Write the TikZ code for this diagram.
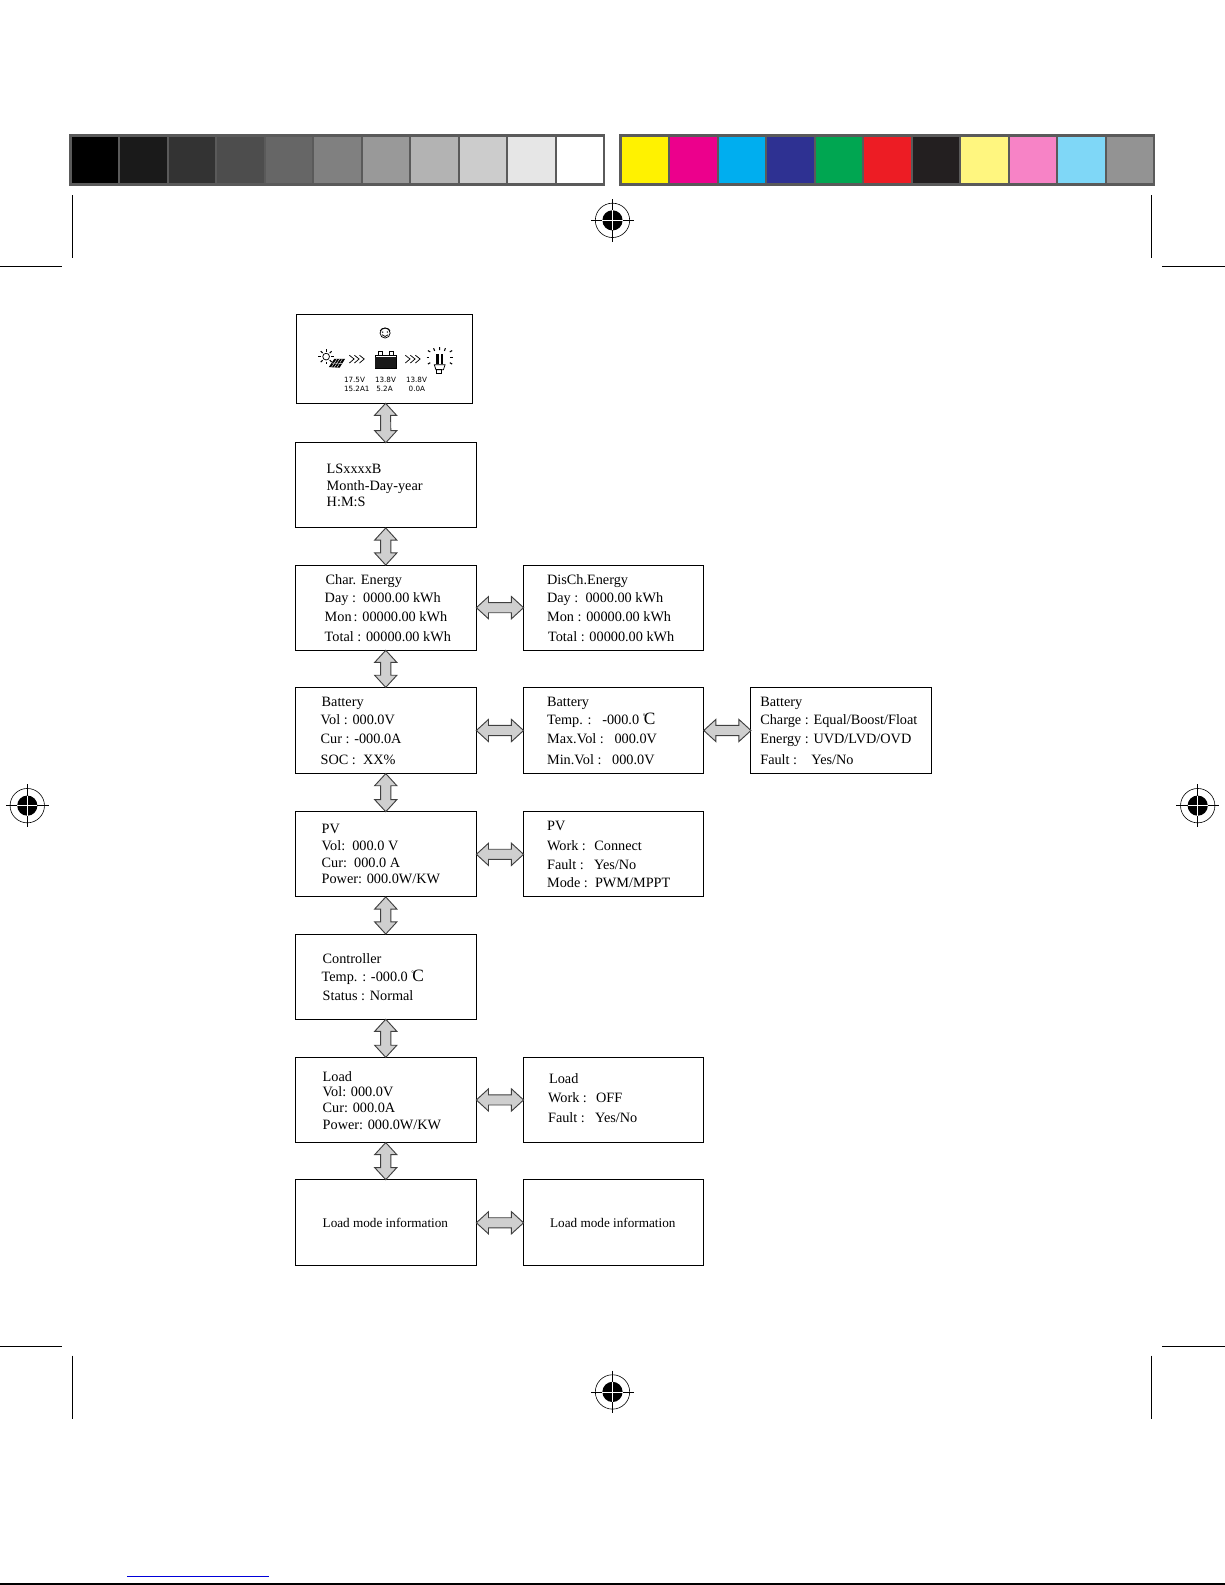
\documentclass[tikz,border=0pt]{standalone}
\usepackage{fontspec}
\setmainfont{Liberation Serif}
\newfontfamily\lcdfont{DejaVu Sans}
\usetikzlibrary{calc}
\definecolor{arrowgray}{HTML}{CFCFCF}
\definecolor{barback}{HTML}{5A5A5A}
\newcount\lblcount
\newcount\swcount
\tikzset{
  blockarrow/.style={draw=black!75,line width=0.7pt,fill=arrowgray,line join=miter},
  lbl/.style={anchor=base west,inner sep=0pt,font=\fontsize{10.7pt}{12pt}\selectfont},
  lblsmall/.style={anchor=base west,inner sep=0pt,font=\fontsize{9.9pt}{12pt}\selectfont},
  lcd/.style={anchor=base west,inner sep=0pt,font=\lcdfont\fontsize{5.4pt}{6pt}\selectfont},
  crop/.style={draw=black,line width=0.7pt},
  regline/.style={draw=black,line width=0.45pt},
}
% box by corners
\newcommand{\bx}[5]{\node[draw=black,line width=0.75pt,inner sep=0pt,outer sep=0pt,anchor=north west,minimum width=#4*0.758pt-#2*0.758pt+0.25pt,minimum height=#5*0.758pt-#3*0.758pt+0.25pt] (#1) at (#2,#3) {};}
\newcommand{\tl}[3]{\global\advance\lblcount by 1 \node[lbl] (txt\the\lblcount) at (#1,#2) {#3};}
\newcommand{\ts}[3]{\global\advance\lblcount by 1 \node[lblsmall] (txt\the\lblcount) at (#1,#2) {#3};}
\newcommand{\tz}[3]{\global\advance\lblcount by 1 \node[lcd] (txt\the\lblcount) at (#1,#2) {#3};}
\newcommand{\varr}[2]{\draw[blockarrow] (#1.south) -- ($(#1.south)+(11,12)$) -- ($(#1.south)+(5,12)$) -- ($(#2.north)+(5,-12)$) -- ($(#2.north)+(11,-12)$) -- (#2.north) -- ($(#2.north)+(-11,-12)$) -- ($(#2.north)+(-5,-12)$) -- ($(#1.south)+(-5,12)$) -- ($(#1.south)+(-11,12)$) -- cycle;}
\newcommand{\harr}[2]{\draw[blockarrow] (#1.east) -- ($(#1.east)+(12,-11)$) -- ($(#1.east)+(12,-5)$) -- ($(#2.west)+(-12,-5)$) -- ($(#2.west)+(-12,-11)$) -- (#2.west) -- ($(#2.west)+(-12,11)$) -- ($(#2.west)+(-12,5)$) -- ($(#1.east)+(12,5)$) -- ($(#1.east)+(12,11)$) -- cycle;}
\newcommand{\regmark}[2]{%
  \fill[black] (#1,#2) circle[radius=10];
  \draw[regline] (#1,#2) circle[radius=17];
  \draw[regline] (#1-21,#2) -- (#1+21,#2);
  \draw[regline] (#1,#2-21) -- (#1,#2+21);
  \draw[white,line width=0.5pt] (#1-10,#2) -- (#1+10,#2);
  \draw[white,line width=0.5pt] (#1,#2-10) -- (#1,#2+10);}
\newcommand{\degC}{{\fontsize{5pt}{5pt}\selectfont\raisebox{4.5pt}{°}}\kern-1.2pt{\fontsize{13pt}{13pt}\selectfont C}}
\begin{document}
\begin{tikzpicture}[x=0.75804pt,y=-0.75813pt]
\useasboundingbox (0,0) rectangle (1212,1568);
\fill[white] (0,0) rectangle (1212,1568);
% colour bars
\fill[barback] (68,133) rectangle (599,184);
\fill[barback] (612,133) rectangle (1143,184);
\swcount=0
\foreach \c in {000000,1A1A1A,333333,4D4D4D,666666,808080,999999,B3B3B3,CCCCCC,E6E6E6,FFFFFF}{
  \definecolor{sw}{HTML}{\c}
  \fill[sw] ({71+48*\the\swcount},135.5) rectangle ++(46,45.5);
  \global\advance\swcount by 1
}
\swcount=0
\foreach \c in {FFF200,EC008C,00AEEF,2E3192,00A651,ED1C24,231F20,FFF67F,F783C6,7FD7F7,939393}{
  \definecolor{sw}{HTML}{\c}
  \fill[sw] ({615+48*\the\swcount},135.5) rectangle ++(46,45.5);
  \global\advance\swcount by 1
}
% crop marks
\draw[crop] (72,193) -- (72,255);
\draw[crop] (1139,193) -- (1139,255);
\draw[crop] (0,264) -- (61,264);
\draw[crop] (1150,264) -- (1212,264);
\draw[crop] (0,1332) -- (61,1332);
\draw[crop] (1150,1332) -- (1212,1332);
\draw[crop] (72,1341) -- (72,1404);
\draw[crop] (1139,1341) -- (1139,1404);
\draw[draw=black,line width=0.8pt] (0,1567) -- (1212,1567);
\draw[draw=blue!85!black,line width=0.7pt] (126,1560) -- (266,1560);
\regmark{606}{218}
\regmark{27}{797}
\regmark{1185}{797}
\regmark{606}{1377}
% boxes
\bx{lcd}{293}{311}{467}{399}
\bx{info}{292}{438}{471}{522}
\bx{char}{292}{559}{471}{643}
\bx{disch}{518}{559}{696}{643}
\bx{bata}{292}{680}{471}{765}
\bx{batb}{518}{680}{696}{765}
\bx{batc}{743}{680}{921}{765}
\bx{pva}{292}{803}{471}{887}
\bx{pvb}{518}{803}{696}{887}
\bx{ctrl}{292}{924}{471}{1008}
\bx{loada}{292}{1046}{471}{1130}
\bx{loadb}{518}{1046}{696}{1130}
\bx{modea}{292}{1167}{471}{1252}
\bx{modeb}{518}{1167}{696}{1252}
% arrows
\varr{info}{char}
\varr{char}{bata}
\varr{bata}{pva}
\varr{pva}{ctrl}
\varr{ctrl}{loada}
\varr{loada}{modea}
\coordinate (lcdb) at (381.5,399);
\draw[blockarrow] (lcdb) -- ($(lcdb)+(11,12)$) -- ($(lcdb)+(5,12)$) -- ($(info.north)+(5,-12)$) -- ($(info.north)+(11,-12)$) -- (info.north) -- ($(info.north)+(-11,-12)$) -- ($(info.north)+(-5,-12)$) -- ($(lcdb)+(-5,12)$) -- ($(lcdb)+(-11,12)$) -- cycle;
\harr{char}{disch}
\harr{bata}{batb}
\harr{batb}{batc}
\harr{pva}{pvb}
\harr{loada}{loadb}
\harr{modea}{modeb}
% texts
\tl{323}{468}{LSxxxxB}
\tl{323}{485}{Month-Day-year}
\tl{323}{501}{H:M:S}
\tl{322}{578}{Char. Energy}
\tl{321}{596}{Day :\ \ 0000.00 kWh}
\tl{321}{615}{Mon\hspace{1.5pt}: 00000.00 kWh}
\tl{321}{634.5}{Total : 00000.00 kWh}
\tl{541}{578}{DisCh.Energy}
\tl{541}{596}{Day :\ \ 0000.00 kWh}
\tl{541}{615}{Mon : 00000.00 kWh}
\tl{542}{634.5}{Total : 00000.00 kWh}
\tl{318}{699}{Battery}
\tl{317}{717}{Vol : 000.0V}
\tl{317}{736}{Cur : -000.0A}
\tl{317}{756}{SOC :\ \ XX\%}
\tl{541}{699}{Battery}
\tl{541}{717}{Temp. :\ \ \ -000.0 \degC}
\tl{541}{736}{Max.Vol :\ \ \ 000.0V}
\tl{541}{756}{Min.Vol :\ \ \ 000.0V}
\tl{752}{699}{Battery}
\tl{752}{717}{Charge : Equal/Boost/Float}
\tl{752}{736}{Energy : UVD/LVD/OVD}
\tl{752}{756}{Fault :\ \ \ \ Yes/No}
\tl{318}{825}{PV}
\tl{318}{841}{Vol:\ \ 000.0 V}
\tl{318}{858}{Cur:\ \ 000.0 A}
\tl{318}{874}{Power: 000.0W/KW}
\tl{541}{822}{PV}
\tl{541}{841}{Work :\ \ \hspace{1pt}Connect}
\tl{541}{860}{Fault :\ \ \hspace{2.3pt}Yes/No}
\tl{541}{878}{Mode :\ \ PWM/MPPT}
\tl{319}{953}{Controller}
\tl{318}{971}{Temp. : -000.0 \degC}
\tl{319}{990}{Status : Normal}
\tl{319}{1070}{Load}
\tl{319}{1085}{Vol: 000.0V}
\tl{319}{1101}{Cur: 000.0A}
\tl{319}{1117}{Power: 000.0W/KW}
\tl{543}{1072}{Load}
\tl{542}{1091}{Work :\ \ \hspace{1.5pt}OFF}
\tl{542}{1110}{Fault :\ \ \hspace{2.3pt}Yes/No}
\ts{319}{1214}{Load mode information}
\ts{544}{1214}{Load mode information}
% LCD icons, drawn in zoom-crop units
\begin{scope}[shift={(280,300.8)},x=0.2527pt,y=-0.2527pt,line width=0.55pt]
  % smiley
  \draw (303,86) circle[radius=15];
  \draw (288,80) .. controls (292,68) and (314,68) .. (318,80);
  \fill (296,83) circle[radius=2.2];
  \fill (310,83) circle[radius=2.2];
  \draw (294,91) .. controls (298,98) and (308,98) .. (312,91);
  % sun
  \draw (128,156) circle[radius=10];
  \foreach \a in {0,45,...,315}{ \draw[line width=0.8pt] ($(128,156)+(\a:15)$) -- ($(128,156)+(\a:23)$); }
  % panel
  \fill (136,187) -- (152,163) -- (184,163) -- (168,189) -- cycle;
  \foreach \t in {0.25,0.5,0.75}{ \draw[white,line width=0.3pt] ($(136,187)!\t!(168,189)$) -- ($(152,163)!\t!(184,163)$); }
  \draw[white,line width=0.3pt] (144,175) -- (176,176);
  % chevrons
  \foreach \x in {197,212,227}{ \draw (\x,152) -- (\x+14,163) -- (\x,175); }
  \foreach \x in {363,378,393}{ \draw (\x,152) -- (\x+14,163) -- (\x,175); }
  % battery
  \draw (273,152) rectangle (336,190);
  \fill[black!90] (273,157) rectangle (336,190);
  \draw[line width=1pt] (283,141) -- (296,141) (315,141) -- (328,141);
  \draw (283,141) -- (283,150) (296,141) -- (296,150) (315,141) -- (315,150) (328,141) -- (328,150);
  % lamp
  \fill (455,148) rectangle (462,178);
  \fill (468,148) rectangle (475,178);
  \draw (449,180) -- (481,180) -- (476,195) -- (454,195) -- cycle;
  \draw (456,195) rectangle (470,205);
  \draw[line width=0.8pt] (465,128) -- (465,137) (447,131) -- (450,139) (482,131) -- (479,139);
  \draw[line width=0.8pt] (430,138) -- (437,142) (502,138) -- (495,142);
  \draw[line width=0.8pt] (426,158) -- (434,158) (496,158) -- (504,158);
  \draw[line width=0.8pt] (430,178) -- (437,174) (502,178) -- (495,174);
  % readouts
  \tz{180}{232}{17.5V}
  \tz{180}{260}{15.2A1}
  \tz{272}{232}{13.8V}
  \tz{276}{260}{5.2A}
  \tz{364}{232}{13.8V}
  \tz{372}{260}{0.0A}
\end{scope}
\end{tikzpicture}
\end{document}
